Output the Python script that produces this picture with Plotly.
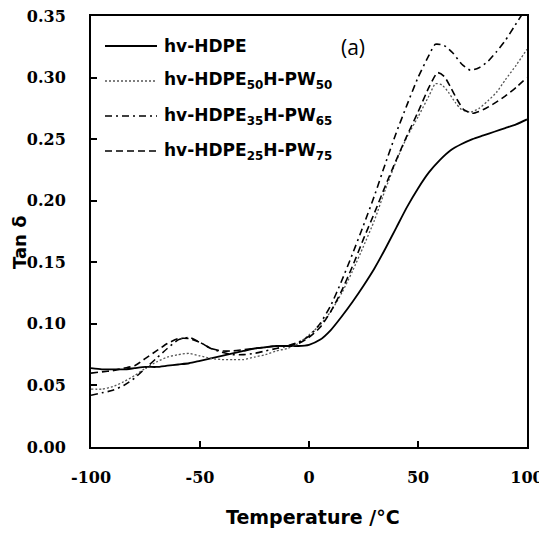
import plotly.graph_objects as go

# ---------------- data ----------------
t_hdpe = [-100, -95, -90, -85, -80, -75, -70, -65, -60, -55, -50, -45, -40, -35, -30, -25, -20, -15, -10, -5,
          0, 5, 10, 15, 20, 25, 30, 35, 40, 45, 50, 55, 60, 65, 70, 75, 80, 85, 90, 95, 100]
tan_hdpe = [0.064, 0.063, 0.063, 0.063, 0.064, 0.065, 0.065, 0.066, 0.067, 0.068, 0.070, 0.072, 0.074, 0.076,
            0.078, 0.080, 0.081, 0.082, 0.082, 0.082, 0.083, 0.087, 0.095, 0.106, 0.118, 0.131, 0.145, 0.161,
            0.178, 0.195, 0.210, 0.223, 0.233, 0.241, 0.246, 0.250, 0.253, 0.256, 0.259, 0.262, 0.266]

t_pw50 = [-100, -95, -90, -85, -80, -75, -70, -65, -60, -55, -50, -45, -40, -35, -30, -25, -20, -15, -10, -5,
          0, 5, 10, 15, 20, 25, 30, 35, 40, 45, 50, 55, 58, 61, 64, 67, 70, 74, 78, 82, 86, 90, 95, 100]
tan_pw50 = [0.047, 0.047, 0.049, 0.053, 0.058, 0.064, 0.069, 0.073, 0.075, 0.076, 0.074, 0.072, 0.071, 0.071,
            0.071, 0.073, 0.075, 0.078, 0.080, 0.084, 0.091, 0.099, 0.110, 0.125, 0.143, 0.163, 0.184, 0.209,
            0.232, 0.252, 0.268, 0.285, 0.295, 0.294, 0.288, 0.280, 0.274, 0.272, 0.275, 0.281, 0.288, 0.298,
            0.310, 0.323]

t_pw65 = [-100, -95, -90, -85, -80, -75, -70, -65, -60, -55, -50, -45, -40, -35, -30, -25, -20, -15, -10, -5,
          0, 5, 10, 15, 20, 25, 30, 35, 40, 45, 50, 55, 58, 62, 66, 70, 74, 78, 82, 86, 90, 94, 98]
tan_pw65 = [0.042, 0.044, 0.046, 0.050, 0.056, 0.064, 0.072, 0.080, 0.087, 0.089, 0.085, 0.080, 0.077, 0.075,
            0.075, 0.076, 0.078, 0.080, 0.082, 0.085, 0.090, 0.100, 0.115, 0.135, 0.157, 0.180, 0.204, 0.230,
            0.255, 0.278, 0.300, 0.318, 0.327, 0.326, 0.320, 0.311, 0.306, 0.308, 0.313, 0.321, 0.330, 0.341,
            0.352]

t_pw75 = [-100, -95, -90, -85, -80, -75, -70, -65, -60, -55, -50, -45, -40, -35, -30, -25, -20, -15, -10, -5,
          0, 5, 10, 15, 20, 25, 30, 35, 40, 45, 50, 55, 59, 62, 65, 68, 71, 75, 80, 85, 90, 95, 100]
tan_pw75 = [0.060, 0.061, 0.062, 0.064, 0.066, 0.072, 0.078, 0.084, 0.088, 0.088, 0.085, 0.080, 0.078, 0.078,
            0.079, 0.080, 0.081, 0.082, 0.082, 0.084, 0.089, 0.097, 0.110, 0.127, 0.147, 0.169, 0.190, 0.212,
            0.233, 0.253, 0.272, 0.292, 0.304, 0.301, 0.292, 0.282, 0.274, 0.271, 0.274, 0.279, 0.285, 0.292,
            0.300]

series_names = ["hv-HDPE",
                "hv-HDPE<sub>50</sub>H-PW<sub>50</sub>",
                "hv-HDPE<sub>35</sub>H-PW<sub>65</sub>",
                "hv-HDPE<sub>25</sub>H-PW<sub>75</sub>"]
x_ticks = [-100, -50, 0, 50, 100]
y_ticks = [0.00, 0.05, 0.10, 0.15, 0.20, 0.25, 0.30, 0.35]

# ---------------- styles ----------------
styles = [
    dict(color="black", width=1.8, dash="solid"),
    dict(color="#555555", width=1.3, dash="2px,2px"),
    dict(color="black", width=1.6, dash="7px,4px,2px,4px"),
    dict(color="black", width=1.6, dash="7px,4px"),
]
xs = [t_hdpe, t_pw50, t_pw65, t_pw75]
ys = [tan_hdpe, tan_pw50, tan_pw65, tan_pw75]

fig = go.Figure()
for name, x, y, st in zip(series_names, xs, ys, styles):
    fig.add_trace(go.Scatter(x=x, y=y, mode="lines", name=name, line=dict(shape="spline", smoothing=0.6, **st),
                             showlegend=False))

# ---------------- layout geometry (page pixels; page body has an 8px margin) ----------------
OFF = 8
FW, FH = 547 - OFF, 536 - OFF
L, R, T, B = 91, 527, 16, 447
W, H = R - L, B - T
def px(xp):
    return (xp - L) / W
def py(yp):
    return (B - yp) / H

legend_rows = [46, 81, 116, 151]
for name, st, row in zip(series_names, styles, legend_rows):
    fig.add_shape(type="line", xref="paper", yref="paper", x0=px(105), x1=px(157), y0=py(row), y1=py(row),
                  line=dict(color=st["color"], width=st["width"], dash=st["dash"]))
    fig.add_annotation(xref="paper", yref="paper", x=px(162), y=py(row), text=name, showarrow=False,
                       xanchor="left", yanchor="middle",
                       font=dict(family="DejaVu Sans", size=17, color="black", weight="bold"))

fig.add_annotation(xref="paper", yref="paper", x=px(353), y=py(47), text="(a)", showarrow=False,
                   xanchor="center", yanchor="middle", font=dict(family="Open Sans", size=21, color="black"))

fig.add_annotation(xref="paper", yref="paper", x=px(19), y=py(242), text="Tan δ", showarrow=False, textangle=-90,
                   xanchor="center", yanchor="middle",
                   font=dict(family="DejaVu Sans", size=18, color="black", weight="bold"))
fig.add_annotation(xref="paper", yref="paper", x=px(313), y=py(517), text="Temperature /°C", showarrow=False,
                   xanchor="center", yanchor="middle",
                   font=dict(family="DejaVu Sans", size=19, color="black", weight="bold"))

tickfont = dict(family="DejaVu Serif", size=16, color="black", weight="bold")
fig.update_xaxes(range=[-100, 100], tickvals=x_ticks, ticktext=[str(v) for v in x_ticks], automargin=False,
                 showgrid=False, zeroline=False, showline=True, linecolor="black", linewidth=2, mirror=True,
                 ticks="inside", ticklen=6, tickwidth=1.5, tickcolor="black", tickfont=tickfont,
                 ticklabelstandoff=15, ticklabeloverflow="allow")
fig.update_yaxes(range=[0, 0.35], tickvals=y_ticks, ticktext=[f"{v:.2f}" for v in y_ticks], automargin=False,
                 showgrid=False, zeroline=False, showline=True, linecolor="black", linewidth=2, mirror=True,
                 ticks="inside", ticklen=6, tickwidth=1.5, tickcolor="black", tickfont=tickfont,
                 ticklabelstandoff=20, ticklabeloverflow="allow")
fig.update_layout(width=FW, height=FH,
                  margin=dict(l=L - OFF, r=FW - (R - OFF), t=T - OFF, b=FH - (B - OFF)),
                  plot_bgcolor="white", paper_bgcolor="white", showlegend=False)

fig.write_html("out.html")
